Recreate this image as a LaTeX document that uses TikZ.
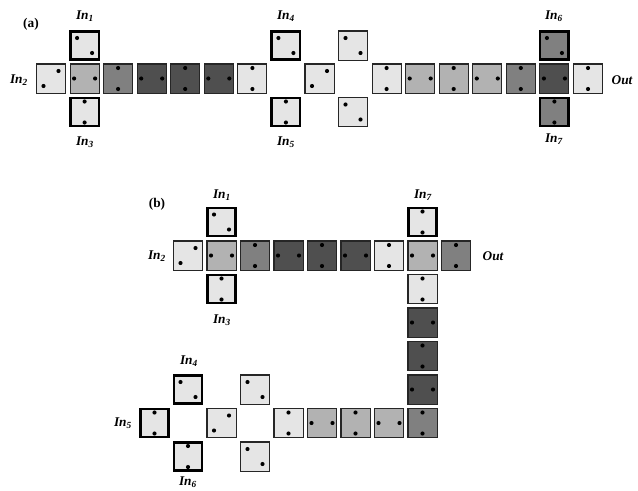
\documentclass[tikz,border=0pt]{standalone}
\usepackage{fontspec}
\setmainfont{Liberation Serif}
\usetikzlibrary{calc}
\definecolor{clt}{gray}{0.90}
\definecolor{cml}{gray}{0.70}
\definecolor{cmd}{gray}{0.50}
\definecolor{cdk}{gray}{0.31}
\tikzset{
  cellbox/.style={draw=black!85, line width=0.8pt, minimum size=21.8pt, inner sep=0pt, outer sep=0pt},
  inbox/.style={draw=black, line width=1.9pt, minimum size=21.3pt},
  lt/.style={fill=clt}, ml/.style={fill=cml}, md/.style={fill=cmd}, dk/.style={fill=cdk},
  lbl/.style={font=\fontsize{10}{12}\selectfont\bfseries\itshape, inner sep=0pt},
  tag/.style={font=\fontsize{10}{12}\selectfont\bfseries, inner sep=0pt}
}
\newcommand{\mydots}[2]{\fill ($(#1)+(#2)$) circle[radius=1.55pt] ($(#1)-(#2)$) circle[radius=1.55pt];}
\newcommand{\mydotsH}[1]{\mydots{#1}{10.5,0}}
\newcommand{\mydotsV}[1]{\mydots{#1}{0,10.5}}
\newcommand{\mydotsD}[1]{\mydots{#1}{7.5,7.5}}
\newcommand{\mydotsA}[1]{\mydots{#1}{7.5,-7.5}}
\newcommand{\mycell}[5]{\node[cellbox,#4] (#1) at (#2,#3) {}; \csname mydots#5\endcsname{#1}}
\begin{document}
\begin{tikzpicture}[x=0.75pt,y=-0.75pt]
\useasboundingbox[fill=white] (0,0) rectangle (638,490);
% ---------------- (a) ----------------
\node[tag] (ta) at (31,24) {(a)};
\mycell{a0}{51}{78.5}{lt}{A}
\mycell{a1}{84.6}{78.5}{ml}{H}
\mycell{a2}{118.1}{78.5}{md}{V}
\mycell{a3}{151.7}{78.5}{dk}{H}
\mycell{a4}{185.2}{78.5}{dk}{V}
\mycell{a5}{218.8}{78.5}{dk}{H}
\mycell{a6}{252.4}{78.5}{lt}{V}
\mycell{a8}{319.5}{78.5}{lt}{A}
\mycell{a10}{386.6}{78.5}{lt}{V}
\mycell{a11}{420.2}{78.5}{ml}{H}
\mycell{a12}{453.7}{78.5}{ml}{V}
\mycell{a13}{487.3}{78.5}{ml}{H}
\mycell{a14}{520.8}{78.5}{md}{V}
\mycell{a15}{554.4}{78.5}{dk}{H}
\mycell{a16}{588}{78.5}{lt}{V}
% input boxes (a)
\mycell{ai1}{84.6}{45.5}{lt,inbox}{D}
\mycell{ai3}{84.6}{112}{lt,inbox}{V}
\mycell{ai4}{285.9}{45.5}{lt,inbox}{D}
\mycell{ai5}{285.9}{112}{lt,inbox}{V}
\mycell{at9}{353}{45.5}{lt}{D}
\mycell{ab9}{353}{112}{lt}{D}
\mycell{ai6}{554.4}{45.5}{md,inbox}{D}
\mycell{ai7}{554.4}{112}{md,inbox}{V}
% labels (a)
\node[lbl] (la1) at (85,16) {In\textsubscript{1}};
\node[lbl] (la2) at (19,80) {In\textsubscript{2}};
\node[lbl] (la3) at (85,142) {In\textsubscript{3}};
\node[lbl] (la4) at (286,16) {In\textsubscript{4}};
\node[lbl] (la5) at (286,142) {In\textsubscript{5}};
\node[lbl] (la6) at (554,16) {In\textsubscript{6}};
\node[lbl] (la7) at (554,139) {In\textsubscript{7}};
\node[lbl] (lao) at (622,80) {Out};
% ---------------- (b) ----------------
\node[tag] (tb) at (157,204) {(b)};
\mycell{b0}{188}{255.5}{lt}{A}
\mycell{b1}{221.5}{255.5}{ml}{H}
\mycell{b2}{255}{255.5}{md}{V}
\mycell{b3}{288.5}{255.5}{dk}{H}
\mycell{b4}{322}{255.5}{dk}{V}
\mycell{b5}{355.5}{255.5}{dk}{H}
\mycell{b6}{389}{255.5}{lt}{V}
\mycell{b7}{422.5}{255.5}{ml}{H}
\mycell{b8}{456}{255.5}{md}{V}
\mycell{c1}{422.5}{289}{lt}{V}
\mycell{c2}{422.5}{322.5}{dk}{H}
\mycell{c3}{422.5}{356}{dk}{V}
\mycell{c4}{422.5}{389.5}{dk}{H}
\mycell{c5}{422.5}{423}{md}{V}
\mycell{d6}{389}{423}{ml}{H}
\mycell{d5}{355.5}{423}{ml}{V}
\mycell{d4}{322}{423}{ml}{H}
\mycell{d3}{288.5}{423}{lt}{V}
\mycell{dt2}{255}{389.5}{lt}{D}
\mycell{db2}{255}{456.5}{lt}{D}
\mycell{d1}{221.5}{423}{lt}{A}
% input boxes (b)
\mycell{bi1}{221.5}{222}{lt,inbox}{D}
\mycell{bi3}{221.5}{289}{lt,inbox}{V}
\mycell{bi7}{422.5}{222}{lt,inbox}{V}
\mycell{bi4}{188}{389.5}{lt,inbox}{D}
\mycell{bi5}{154.5}{423}{lt,inbox}{V}
\mycell{bi6}{188}{456.5}{lt,inbox}{V}
% labels (b)
\node[lbl] (lb1) at (222,195) {In\textsubscript{1}};
\node[lbl] (lb2) at (157,256) {In\textsubscript{2}};
\node[lbl] (lb3) at (222,320) {In\textsubscript{3}};
\node[lbl] (lb7) at (423,195) {In\textsubscript{7}};
\node[lbl] (lbo) at (493,256) {Out};
\node[lbl] (lb4) at (189,361) {In\textsubscript{4}};
\node[lbl] (lb5) at (123,423) {In\textsubscript{5}};
\node[lbl] (lb6) at (188,482) {In\textsubscript{6}};
\end{tikzpicture}
\end{document}
